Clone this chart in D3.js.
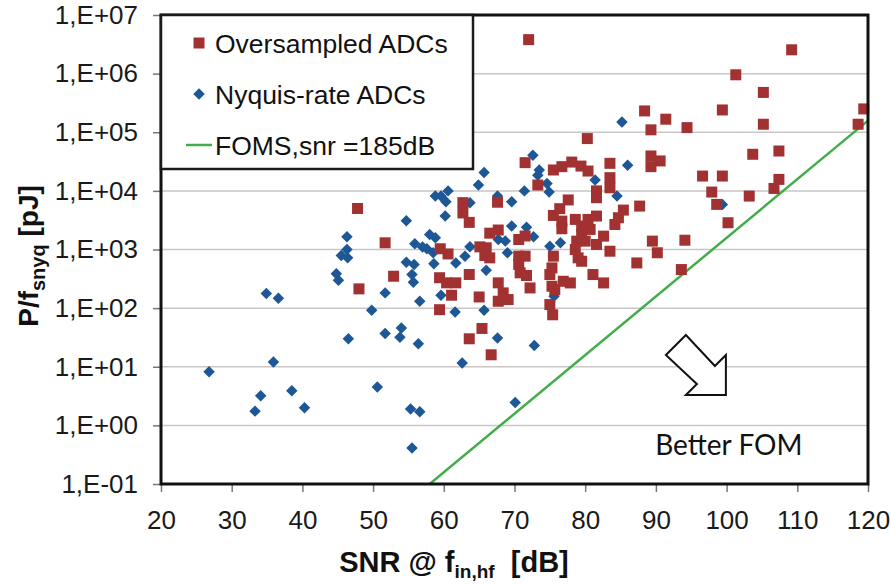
<!DOCTYPE html>
<html>
<head>
<meta charset="utf-8">
<script src="https://cdnjs.cloudflare.com/ajax/libs/d3/7.8.5/d3.min.js"></script>
<style>
body { margin: 0; background: #fff; }
text { font-family: "Liberation Sans", Arial, sans-serif; fill: #111; }
</style>
</head>
<body>
<svg id="visframe" width="890" height="585"></svg>
<script>
// values: SNR in dB, P/fsnyq in pJ
var overSnr = [47.8, 51.7, 52.9, 48.0, 63.6, 65.4, 66.7, 62.7, 62.7, 63.6, 67.6, 66.5, 67.7, 59.5, 60.6,
    65.1, 66.0, 66.5, 65.8, 63.6, 59.4, 60.4, 61.7, 61.1, 65.0, 59.4, 67.7, 67.7, 68.4, 71.5,
    73.3, 75.5, 76.7, 78.1, 79.4, 80.4, 81.6, 81.6, 83.5, 83.5, 83.5, 77.6, 76.4, 75.5, 76.7,
    76.7, 78.6, 79.5, 80.4, 81.6, 80.7, 79.5, 78.8, 80.0, 78.6, 79.0, 79.5, 81.6, 82.6, 83.5,
    84.2, 84.7, 85.4, 81.1, 82.6, 70.6, 71.5, 70.6, 71.5, 70.6, 70.8, 71.7, 72.2, 75.5, 75.3,
    75.0, 75.3, 76.9, 77.9, 75.7, 75.0, 75.4, 69.1, 80.3, 72.0, 88.4, 91.4, 89.3, 94.4, 89.3,
    90.6, 89.3, 101.3, 105.2, 99.4, 105.2, 109.2, 119.4, 118.6, 103.7, 107.4, 96.6, 99.4, 97.9, 98.6,
    100.2, 103.2, 107.4, 106.7, 87.7, 89.5, 90.2, 94.1, 87.3, 93.6];
var overEnergy = [5000, 1300, 350, 213, 30, 45, 16, 6300, 4200, 2900, 6400, 1900, 2150, 1030, 840,
    1110, 1070, 720, 790, 375, 330, 270, 270, 166, 155, 94, 270, 131, 182, 30300,
    12600, 22700, 25900, 31000, 26500, 21800, 10000, 7650, 29500, 16800, 11300, 7000, 4970, 3810, 3050,
    2260, 3260, 2510, 3260, 3720, 2200, 1800, 1390, 1390, 1000, 720, 630, 1220, 1690, 935,
    2670, 3480, 4700, 374, 269, 1480, 1700, 770, 770, 555, 400, 360, 221, 770, 486,
    374, 236, 287, 269, 207, 115, 77, 140, 78000, 3800000, 231000, 167000, 110000, 120000, 39400,
    32400, 25900, 955000, 478000, 240000, 137000, 2550000, 250000, 137000, 42100, 47900, 17900, 17900, 9550, 5880,
    2860, 8150, 15700, 11000, 5500, 1390, 880, 1440, 590, 455];

var nyqSnr = [26.8, 35.9, 34.1, 33.3, 38.5, 40.3, 46.5, 51.7, 50.6, 34.9, 36.6, 46.3, 46.3, 45.5, 46.4,
    44.8, 45.1, 51.7, 49.8, 65.7, 64.9, 60.6, 58.8, 59.6, 60.3, 60.2, 54.7, 67.6, 63.7, 58.0,
    58.8, 55.9, 57.0, 57.6, 58.5, 63.7, 67.7, 63.0, 61.7, 54.7, 55.8, 58.6, 55.5, 55.7, 56.6,
    59.6, 61.6, 66.0, 65.7, 54.0, 53.8, 56.4, 67.6, 62.6, 72.8, 70.1, 55.3, 56.6, 55.5, 72.6,
    73.5, 73.3, 74.6, 74.9, 71.4, 69.6, 81.4, 84.5, 86.0, 69.6, 71.7, 72.7, 68.7, 69.0, 75.0,
    76.5, 75.6, 85.2, 99.4];
var nyqEnergy = [8.2, 12, 3.2, 1.75, 3.9, 2.0, 30, 37, 4.5, 177, 147, 1650, 1000, 790, 720,
    385, 300, 182, 92, 20500, 12600, 10000, 8150, 8150, 6530, 3720, 3090, 8150, 6280, 1800,
    1590, 1250, 1100, 1030, 880, 1110, 1480, 770, 590, 607, 555, 570, 374, 276, 131,
    166, 86, 443, 92, 46, 32, 24.7, 31, 11.6, 23, 2.45, 1.9, 1.7, 0.41, 40400,
    22700, 18400, 13400, 9550, 10000, 6530, 15300, 8150, 27300, 2510, 2400, 1650, 1390, 880, 1140,
    1300, 159, 150000, 5880];

// FOMS,snr = 185 dB line end points
var fomsSnr = [58, 120];
var fomsEnergy = [0.1, 158000];

var xTicks = [20, 30, 40, 50, 60, 70, 80, 90, 100, 110, 120];
var yTicks = [1e-1, 1e0, 1e1, 1e2, 1e3, 1e4, 1e5, 1e6, 1e7];
var legendLabels = ["Oversampled ADCs", "Nyquis-rate ADCs", "FOMS,snr =185dB"];

var colors = {over: "#a23232", nyq: "#1d5796", foms: "#43ad4b"};
var plot = {left: 161, right: 868, top: 15, bottom: 484};

var svg = d3.select("#visframe");

var x = d3.scaleLinear().domain([20, 120]).range([plot.left, plot.right]);
var y = d3.scaleLog().domain([0.1, 1e7]).range([plot.bottom, plot.top]);

function expLabel(v){
    var e = Math.round(Math.log10(v));
    var s = Math.abs(e) < 10 ? "0" + Math.abs(e) : "" + Math.abs(e);
    return "1,E" + (e < 0 ? "-" : "+") + s;
}

//gridlines
svg.append("g").selectAll("line")
    .data(yTicks.slice(1, -1))
    .enter().append("line")
    .attr("x1", plot.left).attr("x2", plot.right)
    .attr("y1", d => y(d)).attr("y2", d => y(d))
    .style("stroke", "#cbc5c5")
    .style("stroke-width", 1.5);

//axes
var yAxis = svg.append("g")
    .attr("transform", "translate(" + plot.left + ",0)")
    .call(d3.axisLeft(y).tickValues(yTicks).tickFormat(expLabel).tickSize(8).tickPadding(15));
var xAxis = svg.append("g")
    .attr("transform", "translate(0," + plot.bottom + ")")
    .call(d3.axisBottom(x).tickValues(xTicks).tickSize(8).tickPadding(19));
[yAxis, xAxis].forEach(function(ax){
    ax.select(".domain").remove();
    ax.selectAll(".tick line").style("stroke", "#777").style("stroke-width", 1.5);
    ax.selectAll(".tick text")
        .style("font-family", "'Liberation Sans', Arial, sans-serif")
        .style("font-size", "26px")
        .style("fill", "#1a1a1a");
});

//FOM line
svg.append("path")
    .datum(d3.zip(fomsSnr, fomsEnergy))
    .attr("d", d3.line().x(d => x(d[0])).y(d => y(d[1])))
    .style("fill", "none")
    .style("stroke", colors.foms)
    .style("stroke-width", 2.5);

//markers
var diamond = d3.symbol().type(d3.symbolSquare).size(66);
var square = d3.symbol().type(d3.symbolSquare).size(121);

svg.append("g").selectAll("path")
    .data(d3.zip(nyqSnr, nyqEnergy))
    .enter().append("path")
    .attr("d", diamond)
    .attr("transform", d => "translate(" + x(d[0]) + "," + y(d[1]) + ") rotate(45)")
    .style("fill", colors.nyq);

svg.append("g").selectAll("path")
    .data(d3.zip(overSnr, overEnergy))
    .enter().append("path")
    .attr("d", square)
    .attr("transform", d => "translate(" + x(d[0]) + "," + y(d[1]) + ")")
    .style("fill", colors.over);

//frame
svg.append("rect")
    .attr("x", plot.left).attr("y", plot.top)
    .attr("width", plot.right - plot.left)
    .attr("height", plot.bottom - plot.top)
    .style("fill", "none")
    .style("stroke", "#111")
    .style("stroke-width", 3);

//legend
var legend = svg.append("g").attr("transform", "translate(" + plot.left + "," + plot.top + ")");
legend.append("rect")
    .attr("width", 312).attr("height", 154)
    .style("fill", "#fff")
    .style("stroke", "#1a1a1a")
    .style("stroke-width", 2.5);
var rows = legend.selectAll(".legRow")
    .data(legendLabels)
    .enter().append("g")
    .attr("class", "legRow")
    .attr("transform", (d, i) => "translate(38," + (28 + i * 51) + ")");
rows.filter((d, i) => i == 0).append("path").attr("d", square).style("fill", colors.over);
rows.filter((d, i) => i == 1).append("path").attr("d", diamond).attr("transform", "rotate(45)").style("fill", colors.nyq);
rows.filter((d, i) => i == 2).append("line")
    .attr("x1", -13).attr("x2", 13)
    .style("stroke", colors.foms).style("stroke-width", 2.5);
rows.append("text")
    .attr("x", 16)
    .attr("dy", "0.36em")
    .style("font-size", "26.5px")
    .text(d => d);

//arrow and note
var arrowTip = [99.9, 3.3];
var arrowPts = [[-40, -60], [-11, -29], [0, -40], [0, 0], [-40, 0], [-29, -11], [-60, -40]];
svg.append("path")
    .attr("transform", "translate(" + x(arrowTip[0]) + "," + y(arrowTip[1]) + ")")
    .attr("d", d3.line()(arrowPts) + "Z")
    .style("fill", "#fff")
    .style("stroke", "#111")
    .style("stroke-width", 2);

svg.append("text")
    .attr("x", x(89.9))
    .attr("y", 455)
    .style("font-family", "Lato, 'Open Sans', sans-serif")
    .style("font-size", "28px")
    .text("Better FOM");

//axis titles
var xt = svg.append("text")
    .attr("x", 454)
    .attr("y", 572)
    .attr("text-anchor", "middle")
    .style("font-weight", "bold")
    .style("font-size", "29px");
xt.append("tspan").text("SNR @ f");
xt.append("tspan").attr("dy", 6).style("font-size", "19px").text("in,hf");
xt.append("tspan").attr("dy", -6).text("\u00a0 [dB]");

var yt = svg.append("text")
    .attr("transform", "translate(38,256) rotate(-90)")
    .attr("text-anchor", "middle")
    .style("font-weight", "bold")
    .style("font-size", "28px");
yt.append("tspan").text("P/f");
yt.append("tspan").attr("dy", 7).style("font-size", "20px").text("snyq");
yt.append("tspan").attr("dy", -7).text(" [pJ]");
</script>
</body>
</html>
